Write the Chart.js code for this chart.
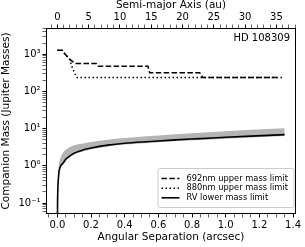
<!DOCTYPE html>
<html>
<head>
<meta charset="utf-8">
<script src="https://cdn.jsdelivr.net/npm/chart.js@4"></script>
<style>
  html, body { margin: 0; padding: 0; background: #fff; }
  canvas { display: block; }
</style>
</head>
<body>
<canvas id="massChart" width="305" height="247"></canvas>
<script>
// RV lower limit and its shaded band (arcsec / Jupiter masses)
const rvSep   = [0, 0.001, 0.003, 0.006, 0.01, 0.02, 0.035, 0.05, 0.075, 0.1, 0.15, 0.2, 0.3, 0.4, 0.55, 0.7, 0.85, 1.0, 1.15, 1.35];
const rvMass  = [0.01, 0.08, 0.25, 0.45, 0.7, 1.0, 1.2, 1.5, 1.85, 2.2, 2.65, 3.0, 3.6, 4.05, 4.5, 5.0, 5.4, 5.85, 6.3, 6.9];
const rvUpper = [0.01, 0.1, 0.35, 0.75, 1.15, 1.7, 2.3, 2.7, 3.2, 3.55, 4.0, 4.4, 5.0, 5.6, 6.3, 7.1, 7.8, 8.5, 9.3, 10.3];
const rvLower = [0.01, 0.07, 0.22, 0.41, 0.64, 0.92, 1.1, 1.38, 1.7, 2.02, 2.44, 2.76, 3.3, 3.72, 4.14, 4.6, 4.97, 5.38, 5.8, 6.35];

// imaging upper limits
const sep692  = [0, 0.028, 0.05, 0.075, 0.1, 0.111, 0.23, 0.24, 0.538, 0.548, 0.846, 0.864, 1.32];
const mass692 = [1280, 1280, 950, 720, 600, 564, 564, 477, 477, 316, 316, 236, 236];
const sep880  = [0, 0.028, 0.05, 0.071, 0.09, 0.115, 1.34];
const mass880 = [1280, 1280, 950, 780, 420, 236, 236];

const sepTicks = [0.0, 0.2, 0.4, 0.6, 0.8, 1.0, 1.2, 1.4];
const auTicks = [0, 5, 10, 15, 20, 25, 30, 35];
const massExps = [-1, 0, 1, 2, 3];
const seriesNames = ['692nm upper mass limit', '880nm upper mass limit', 'RV lower mass limit'];
const starName = 'HD 108309';
const auPerArcsec = 26.9;

const xMin = -0.0675, xMax = 1.4175;
const yMin = 0.0507, yMax = 5080;

const pts = (xs, ys) => xs.map((x, i) => ({ x: x, y: ys[i] }));
const sup = { '-': '⁻', '0': '⁰', '1': '¹', '2': '²', '3': '³', '4': '⁴', '5': '⁵' };
const near = (a, b) => Math.abs(a - b) < 1e-6;

Chart.defaults.font.family = '"DejaVu Sans", sans-serif';
Chart.defaults.color = '#000';

const frame = {
  id: 'frame',
  afterDraw(chart) {
    const { ctx, chartArea: a } = chart;
    ctx.save();
    ctx.strokeStyle = '#000';
    ctx.lineWidth = 1;
    ctx.strokeRect(Math.round(a.left) + 0.5, Math.round(a.top) + 0.5,
                   Math.round(a.right - a.left) - 1, Math.round(a.bottom - a.top) - 1);

    ctx.font = '10px "DejaVu Sans"';
    ctx.textAlign = 'right';
    ctx.textBaseline = 'middle';
    ctx.fillStyle = '#000';
    ctx.fillText(starName, a.right - 6, a.top + 10.5);

    // legend in the lower right corner
    const w = 136, h = 39;
    const x = a.right - 2 - w, y = a.bottom - 6.5 - h;
    ctx.beginPath();
    ctx.roundRect(x, y, w, h, 2);
    ctx.fillStyle = 'rgba(255,255,255,0.8)';
    ctx.fill();
    ctx.strokeStyle = '#cccccc';
    ctx.stroke();
    ctx.font = '8.3px "DejaVu Sans"';
    ctx.textAlign = 'left';
    seriesNames.forEach((name, i) => {
      const ds = chart.data.datasets.find(d => d.label === name);
      const yy = y + 10 + i * 9.65;
      ctx.beginPath();
      ctx.setLineDash(ds.borderDash || []);
      ctx.strokeStyle = ds.borderColor;
      ctx.lineWidth = ds.borderWidth;
      ctx.moveTo(x + 3.5, yy);
      ctx.lineTo(x + 21.5, yy);
      ctx.stroke();
      ctx.setLineDash([]);
      ctx.fillStyle = '#000';
      ctx.fillText(name, x + 28.5, yy);
    });
    ctx.restore();
  }
};

const tickGrid = (isMajor) => ({
  drawOnChartArea: false,
  drawTicks: true,
  tickLength: 3.5,
  tickColor: '#000',
  tickWidth: c => (c.tick && isMajor(c.tick.value)) ? 1 : 0.6
});

const isSepMajor = v => sepTicks.some(t => near(t, v));
const isAuMajor = v => auTicks.some(t => near(t, v));
const isMassMajor = v => massExps.some(e => Math.abs(Math.log10(v) - e) < 1e-6);

const ctx = document.getElementById('massChart').getContext('2d');
const massChart = new Chart(ctx, {
  type: 'line',
  data: {
    datasets: [{
      label: seriesNames[0],
      data: pts(sep692, mass692),
      borderColor: '#000',
      borderWidth: 1.5,
      borderDash: [5.5, 2.4],
      pointRadius: 0,
      fill: false
    }, {
      label: seriesNames[1],
      data: pts(sep880, mass880),
      borderColor: '#000',
      borderWidth: 1.5,
      borderDash: [1.5, 2.5],
      pointRadius: 0,
      fill: false
    }, {
      label: seriesNames[2],
      data: pts(rvSep, rvMass),
      borderColor: '#000',
      borderWidth: 1.6,
      pointRadius: 0,
      cubicInterpolationMode: 'monotone',
      fill: false
    }, {
      data: pts(rvSep, rvUpper),
      borderWidth: 0,
      pointRadius: 0,
      cubicInterpolationMode: 'monotone',
      backgroundColor: 'rgb(180,180,180)',
      fill: '+1'
    }, {
      data: pts(rvSep, rvLower),
      borderWidth: 0,
      pointRadius: 0,
      cubicInterpolationMode: 'monotone',
      fill: false
    }]
  },
  options: {
    responsive: false,
    animation: false,
    devicePixelRatio: 1,
    events: [],
    layout: { padding: { left: 0, right: 9, top: 0, bottom: 0 } },
    plugins: { legend: { display: false }, tooltip: { enabled: false } },
    scales: {
      x: {
        type: 'linear',
        position: 'bottom',
        min: xMin,
        max: xMax,
        afterBuildTicks: s => {
          const t = [];
          for (let i = -1; i <= 28; i++) t.push({ value: Math.round(i * 5) / 100 });
          s.ticks = t.filter(k => k.value >= xMin && k.value <= xMax);
        },
        ticks: {
          autoSkip: false, maxRotation: 0, padding: 2,
          font: { size: 10 },
          callback: v => isSepMajor(v) ? v.toFixed(1) : ''
        },
        grid: tickGrid(isSepMajor),
        border: { display: false },
        title: {
          display: true, text: 'Angular Separation (arcsec)',
          font: { size: 10.5, lineHeight: 1 }, padding: { top: 0, bottom: 4 }
        },
        afterFit: s => { s.height = 33; }
      },
      x2: {
        type: 'linear',
        position: 'top',
        min: xMin * auPerArcsec,
        max: xMax * auPerArcsec,
        afterBuildTicks: s => {
          const t = [];
          for (let i = -1; i <= 38; i++) t.push({ value: i });
          s.ticks = t.filter(k => k.value >= s.min && k.value <= s.max);
        },
        ticks: {
          autoSkip: false, maxRotation: 0, padding: 1.5,
          font: { size: 10 },
          callback: v => isAuMajor(v) ? String(v) : ''
        },
        grid: tickGrid(isAuMajor),
        border: { display: false },
        title: {
          display: true, text: 'Semi-major Axis (au)',
          font: { size: 10.5, lineHeight: 1 }, padding: { top: 0.5, bottom: 0 }
        },
        afterFit: s => { s.height = 28; }
      },
      y: {
        type: 'logarithmic',
        min: yMin,
        max: yMax,
        afterBuildTicks: s => {
          const t = [];
          for (let e = -2; e <= 3; e++) {
            for (let m = 1; m <= 9; m++) t.push({ value: m * Math.pow(10, e) });
          }
          s.ticks = t.filter(k => k.value >= yMin && k.value <= yMax);
        },
        ticks: {
          autoSkip: false, padding: 2,
          font: { size: 10 },
          callback: v => {
            if (!isMassMajor(v)) return '';
            const e = String(Math.round(Math.log10(v)));
            return '10' + e.split('').map(c => sup[c]).join('');
          }
        },
        grid: tickGrid(isMassMajor),
        border: { display: false },
        title: {
          display: true, text: 'Companion Mass (Jupiter Masses)',
          font: { size: 10.5, lineHeight: 1 }, padding: { top: 1.5, bottom: 0 }
        },
        afterFit: s => { s.width = 46; }
      }
    }
  },
  plugins: [frame]
});
</script>
</body>
</html>
